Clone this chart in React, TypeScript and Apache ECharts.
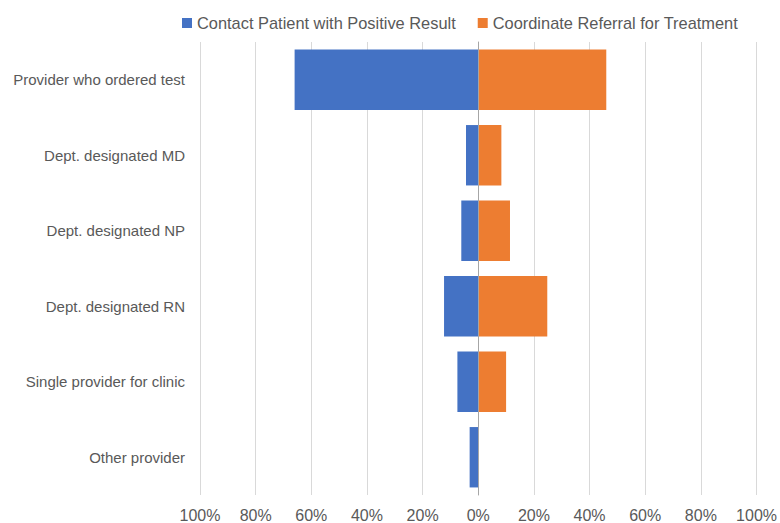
import React, { useEffect, useRef } from "react";
import * as echarts from "echarts";

// Who handles each follow-up step, share of responses (%)
const categories = [
  "Provider who ordered test",
  "Dept. designated MD",
  "Dept. designated NP",
  "Dept. designated RN",
  "Single provider for clinic",
  "Other provider",
];

const contactLabel = "Contact Patient with Positive Result";
const referralLabel = "Coordinate Referral for Treatment";

// Contact step is plotted to the left of zero
const contactValues = [66, 4.4, 6.1, 12.3, 7.5, 3.1];
const referralValues = [46, 8.3, 11.4, 24.8, 10, 0];

const xTicks = { min: -100, max: 100, interval: 20 };

const FONT = "'Liberation Sans', Arial, Helvetica, sans-serif";
const TEXT = "#595959";

export default function App() {
  const ref = useRef<HTMLDivElement>(null);

  useEffect(() => {
    if (!ref.current) return;
    const chart = echarts.init(ref.current, undefined, { renderer: "svg" });
    chart.setOption({
      animation: false,
      backgroundColor: "#ffffff",
      textStyle: { fontFamily: FONT },
      legend: {
        data: [contactLabel, referralLabel],
        left: 177,
        top: 10,
        icon: "rect",
        itemWidth: 10,
        itemHeight: 10,
        itemGap: 22,
        textStyle: { fontSize: 16.4, color: TEXT, fontFamily: FONT },
      },
      grid: { left: 200, right: 20, top: 42, bottom: 27, containLabel: false },
      xAxis: {
        type: "value",
        min: xTicks.min,
        max: xTicks.max,
        interval: xTicks.interval,
        axisLine: { show: false },
        axisTick: { show: false },
        splitLine: { show: true, lineStyle: { color: "#d9d9d9", width: 1 } },
        axisLabel: {
          fontSize: 16,
          color: TEXT,
          fontFamily: FONT,
          margin: 12,
          formatter: (v: number) => `${Math.abs(v)}%`,
        },
      },
      yAxis: {
        type: "category",
        data: categories,
        inverse: true,
        z: 5,
        axisLine: { show: true, onZero: true, lineStyle: { color: "#a6a6a6", width: 1 } },
        axisTick: { show: false },
        axisLabel: { fontSize: 15, color: TEXT, fontFamily: FONT, margin: 15 },
      },
      series: [
        {
          name: contactLabel,
          type: "bar",
          stack: "share",
          barCategoryGap: "20%",
          itemStyle: { color: "#4472c4" },
          data: contactValues.map((v) => -v),
        },
        {
          name: referralLabel,
          type: "bar",
          stack: "share",
          barCategoryGap: "20%",
          itemStyle: { color: "#ed7d31" },
          data: referralValues,
        },
      ],
    });
    return () => chart.dispose();
  }, []);

  return (
    <div
      ref={ref}
      style={{ position: "fixed", left: 0, top: 0, width: 780, height: 523 }}
    />
  );
}
